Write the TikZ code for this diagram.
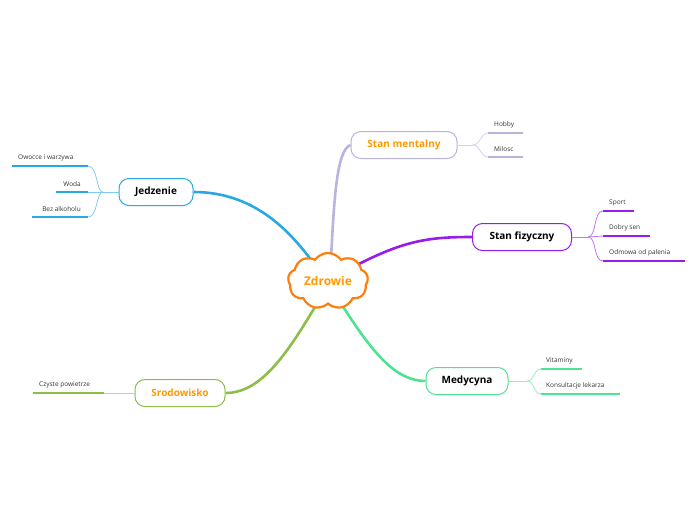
\documentclass[tikz,border=0pt]{standalone}
\usepackage{fontspec}
\setmainfont{Open Sans}
\usetikzlibrary{shapes.symbols}
\definecolor{cblue}{RGB}{41,168,226}
\definecolor{clpurp}{RGB}{185,180,222}
\definecolor{cpurp}{RGB}{154,28,232}
\definecolor{cgreen}{RGB}{78,226,146}
\definecolor{colive}{RGB}{140,190,72}
\definecolor{corange}{RGB}{255,153,0}
\definecolor{ccloud}{RGB}{255,125,10}
\tikzset{
  topic/.style={draw=#1, line width=1pt, rounded corners=10pt, fill=white, minimum height=27pt, inner xsep=12pt, font=\fontsize{10}{12}\selectfont\bfseries},
  main/.style={line width=2.6pt, draw=#1},
  sub/.style={font=\fontsize{6.5}{8}\selectfont, text=black!80, inner sep=1pt},
  uline/.style={line width=2pt, draw=#1},
  twig/.style={line width=0.8pt, draw=#1!60},
}
\begin{document}
\begin{tikzpicture}[x=1pt,y=-1pt]
\useasboundingbox (0,0) rectangle (696,520);
% topics
\node[topic=cblue, minimum width=74pt] (jed) at (156,192) {Jedzenie};
\node[topic=clpurp, minimum width=106pt, text=corange] (men) at (404,145) {Stan mentalny};
\node[topic=cpurp, minimum width=99pt] (fiz) at (522,237) {Stan fizyczny};
\node[topic=cgreen, minimum width=82pt] (med) at (467,381) {Medycyna};
\node[topic=colive, minimum width=90pt, text=corange] (sro) at (180,393) {Srodowisko};
% cloud anchors
\coordinate (cJ) at (312,261);
\coordinate (cM) at (331,258);
\coordinate (cF) at (355,266);
\coordinate (cD) at (340,302);
\coordinate (cS) at (318,302);
% main connectors
\draw[main=cblue] (jed.east) .. controls (255,192) and (290,232) .. (cJ);
\draw[main=clpurp] (cM) .. controls (334,205) and (336,150) .. (men.west);
\draw[main=cpurp] (cF) .. controls (405,240) and (430,237) .. (fiz.west);
\draw[main=cgreen] (cD) .. controls (372,352) and (395,381) .. (med.west);
\draw[main=colive] (cS) .. controls (288,352) and (262,393) .. (sro.east);
% cloud
\node[cloud, cloud puffs=9, cloud puff arc=110, aspect=1.45, draw=ccloud, line width=2.2pt, fill=white, minimum width=80pt, minimum height=52pt, inner sep=0pt, text=corange, font=\fontsize{12}{14}\selectfont\bfseries] (zd) at (328,281) {Zdrowie};

% Jedzenie subtopics
\coordinate (jb) at (103,192);
\coordinate (j1a) at (12,166); \coordinate (j1b) at (88,166);
\coordinate (j2a) at (56,192); \coordinate (j2b) at (88,192);
\coordinate (j3a) at (32,217); \coordinate (j3b) at (88,217);
\draw[twig=cblue] (jed.west) -- (jb);
\draw[twig=cblue] (jb) .. controls (96,192) and (98,166) .. (j1b);
\draw[twig=cblue] (jb) -- (j2b);
\draw[twig=cblue] (jb) .. controls (96,192) and (98,217) .. (j3b);
\draw[uline=cblue] (j1a) -- (j1b);
\draw[uline=cblue] (j2a) -- (j2b);
\draw[uline=cblue] (j3a) -- (j3b);
\node[sub, anchor=south west] (t1) at (17,162) {Owocce i warzywa};
\node[sub, anchor=south east] (t2) at (82,188) {Woda};
\node[sub, anchor=south east] (t3) at (82,213) {Bez alkoholu};

% Stan mentalny subtopics
\coordinate (mb) at (473,145);
\coordinate (m1a) at (488,133); \coordinate (m1b) at (523,133);
\coordinate (m2a) at (488,157); \coordinate (m2b) at (523,157);
\draw[twig=clpurp] (men.east) -- (mb);
\draw[twig=clpurp] (mb) .. controls (480,145) and (481,133) .. (m1a);
\draw[twig=clpurp] (mb) .. controls (480,145) and (481,157) .. (m2a);
\draw[uline=clpurp] (m1a) -- (m1b);
\draw[uline=clpurp] (m2a) -- (m2b);
\node[sub, anchor=south west] (h1) at (493,129) {Hobby};
\node[sub, anchor=south west] (h2) at (493,153) {Milosc};

% Stan fizyczny subtopics
\coordinate (fb) at (588,237);
\coordinate (f1a) at (603,211); \coordinate (f1b) at (634,211);
\coordinate (f2a) at (603,236); \coordinate (f2b) at (650,236);
\coordinate (f3a) at (603,261); \coordinate (f3b) at (685,261);
\draw[twig=cpurp] (fiz.east) -- (fb);
\draw[twig=cpurp] (fb) .. controls (597,237) and (593,211) .. (f1a);
\draw[twig=cpurp] (fb) -- (f2a);
\draw[twig=cpurp] (fb) .. controls (597,237) and (593,261) .. (f3a);
\draw[uline=cpurp] (f1a) -- (f1b);
\draw[uline=cpurp] (f2a) -- (f2b);
\draw[uline=cpurp] (f3a) -- (f3b);
\node[sub, anchor=south west] (s1) at (608,207) {Sport};
\node[sub, anchor=south west] (s2) at (608,232) {Dobry sen};
\node[sub, anchor=south west] (s3) at (608,257) {Odmowa od palenia};

% Medycyna subtopics
\coordinate (db) at (527,381);
\coordinate (d1a) at (541,369); \coordinate (d1b) at (582,369);
\coordinate (d2a) at (541,394); \coordinate (d2b) at (620,394);
\draw[twig=cgreen] (med.east) -- (db);
\draw[twig=cgreen] (db) .. controls (535,381) and (533,369) .. (d1a);
\draw[twig=cgreen] (db) .. controls (535,381) and (533,394) .. (d2a);
\draw[uline=cgreen] (d1a) -- (d1b);
\draw[uline=cgreen] (d2a) -- (d2b);
\node[sub, anchor=south west] (v1) at (545,365) {Vitaminy};
\node[sub, anchor=south west] (v2) at (545,390) {Konsultacje lekarza};

% Srodowisko subtopic
\coordinate (ra) at (33,393); \coordinate (rb) at (104,393);
\draw[twig=colive] (sro.west) -- (rb);
\draw[uline=colive] (ra) -- (rb);
\node[sub, anchor=south west] (r1) at (38,389) {Czyste powietrze};
\end{tikzpicture}
\end{document}
